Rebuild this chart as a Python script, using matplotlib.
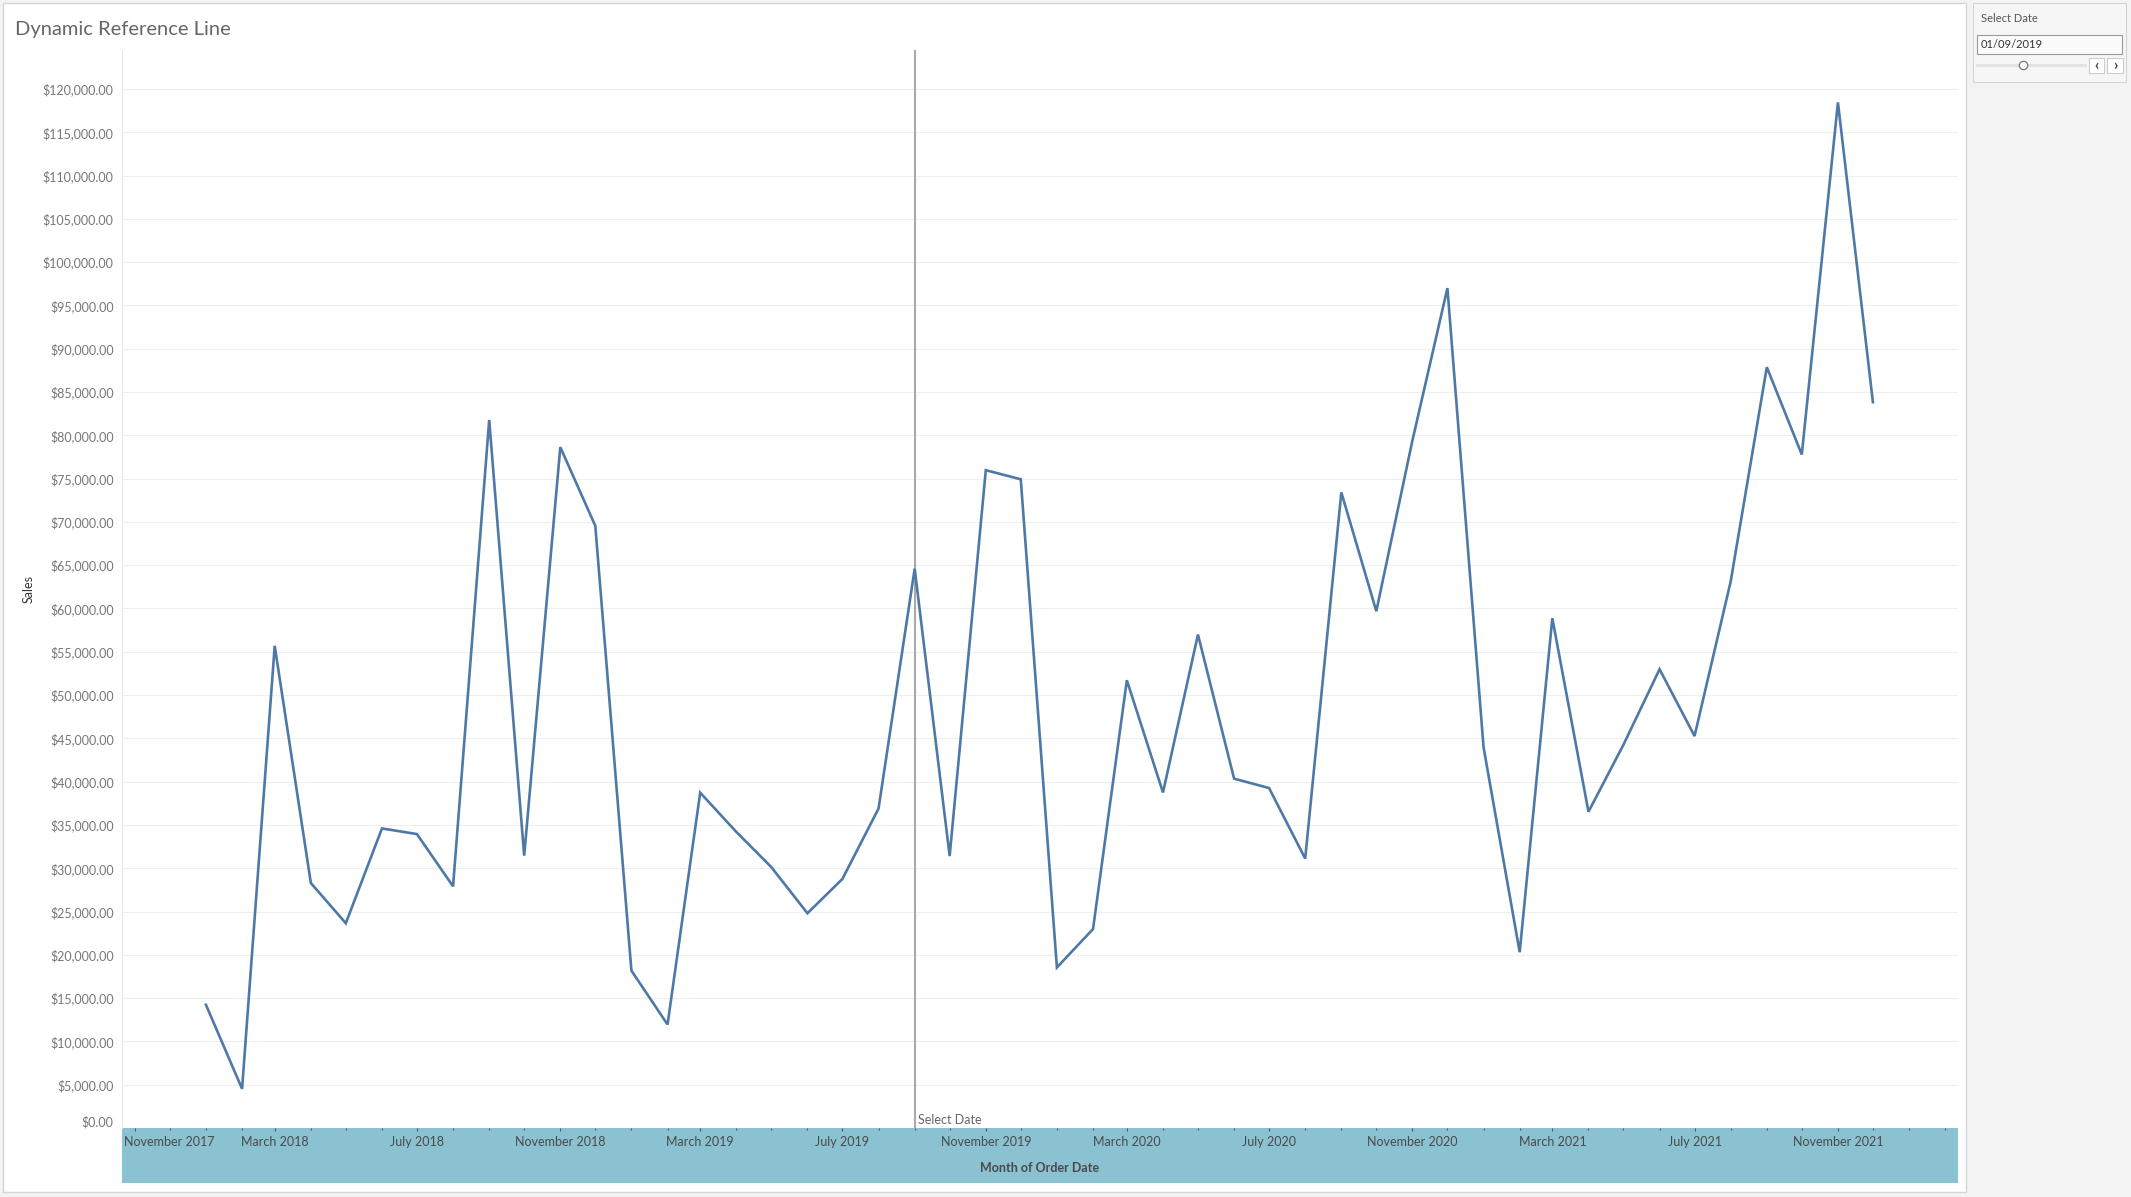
"""
Dynamic Reference Line - monthly sales with a selected date marker
"""

import datetime as dt

import matplotlib
matplotlib.use("Agg")
import matplotlib.pyplot as plt
import matplotlib.dates as mdates
import matplotlib.transforms as mtransforms
from matplotlib.patches import Rectangle
from matplotlib.lines import Line2D
from matplotlib.ticker import FixedLocator, FuncFormatter


# monthly sales, Jan 2018 .. Dec 2021
years = [2018, 2019, 2020, 2021]
sales_2018 = [14237, 4520, 55691, 28295, 23648, 34595, 33946, 27909, 81777, 31453, 78629, 69546]
sales_2019 = [18174, 11951, 38726, 34195, 30132, 24797, 28765, 36898, 64596, 31405, 75973, 74919]
sales_2020 = [18542, 22979, 51716, 38750, 56988, 40345, 39262, 31115, 73410, 59688, 79412, 96999]
sales_2021 = [43971, 20301, 58872, 36522, 44261, 52982, 45264, 63121, 87867, 77777, 118448, 83829]

y_ticks = list(range(0, 120001, 5000))
selected_date = dt.date(2019, 9, 1)
selected_label = "01/09/2019"
x_range = (dt.date(2017, 10, 21), dt.date(2022, 2, 12))
y_max = 124500

W, H = 2131, 1197
LINE_COLOR = "#4e79a7"
BAND_COLOR = "#8bc2d2"


def fx(x):
    return x / W


def fy(y):
    return 1 - y / H


def px_rect(x0, y0, x1, y1, **kw):
    """Rectangle given in pixel coords (top-left origin)"""
    return Rectangle((fx(x0), fy(y1)), (x1 - x0) / W, (y1 - y0) / H,
                     transform=fig.transFigure, **kw)


plt.rcParams["font.family"] = ["Lato", "DejaVu Sans"]

fig = plt.figure(figsize=(W / 100, H / 100), dpi=100, facecolor="#f3f3f3")

# dashboard background and parameter panel
fig.add_artist(px_rect(3, 3, 1966, 1192, facecolor="white", edgecolor="#d6d6d6",
                       linewidth=1, zorder=-10))
fig.add_artist(px_rect(1973, 3, 2126, 82, facecolor="#f6f6f6", edgecolor="#d3d3d3",
                       linewidth=0.8, zorder=-10))

ax = fig.add_axes([fx(122), fy(1128), (1958 - 122) / W, (1128 - 50) / H])

dates = []
values = []
for year, vals in zip(years, [sales_2018, sales_2019, sales_2020, sales_2021]):
    for m, v in enumerate(vals):
        dates.append(dt.date(year, m + 1, 1))
        values.append(v)

ax.plot(dates, values, color=LINE_COLOR, linewidth=1.9, solid_joinstyle="miter", zorder=3)

# reference line
ax.axvline(selected_date, color="#a9a9a9", linewidth=1.5, zorder=2)
ax.annotate("Select Date", xy=(selected_date, 0), xytext=(2.5, 1.5),
            textcoords="offset points", ha="left", va="bottom",
            fontsize=9, color="#666666")

# y axis
ax.yaxis.set_major_locator(FixedLocator(y_ticks))
ax.yaxis.set_major_formatter(FuncFormatter(lambda v, p: f"${v:,.2f}"))
ax.tick_params(axis="y", length=0, pad=6, labelsize=9, labelcolor="#777777")
ax.grid(axis="y", color="#efefef", linewidth=0.8)
ax.set_axisbelow(True)

# x axis
ax.xaxis.set_major_locator(mdates.MonthLocator(bymonth=[3, 7, 11]))
ax.xaxis.set_minor_locator(mdates.MonthLocator())
ax.xaxis.set_major_formatter(mdates.DateFormatter("%B %Y"))
ax.tick_params(axis="x", which="major", length=2.5, width=0.8, color="#555555",
               pad=3, labelsize=9, labelcolor="#4a4a4a")
ax.tick_params(axis="x", which="minor", length=1.5, width=0.8, color="#555555")

ax.set_xlim(*x_range)
ax.set_ylim(0, y_max)

for lbl in ax.get_yticklabels():
    if lbl.get_text() == "$0.00":
        lbl.set_va("bottom")
first = ax.get_xticklabels()[0]
first.set_ha("left")
first.set_transform(first.get_transform() +
                    mtransforms.ScaledTranslation(-0.11, 0, fig.dpi_scale_trans))

for side in ["top", "right", "bottom"]:
    ax.spines[side].set_visible(False)
ax.spines["left"].set_color("#e8e8e8")
ax.spines["left"].set_linewidth(0.8)

# axis band
fig.add_artist(px_rect(122, 1128, 1958, 1183, facecolor=BAND_COLOR, edgecolor="none",
                       zorder=-5))
fig.text(fx(1040), fy(1168), "Month of Order Date", ha="center", va="center",
         fontsize=9, fontweight="bold", color="#4a4a4a")
fig.text(fx(29), fy(589), "Sales", rotation=90, ha="center", va="center",
         fontsize=9, color="#333333")

# title
fig.text(fx(15), fy(35), "Dynamic Reference Line", ha="left", va="baseline",
         fontsize=14.5, color="#666666")

# parameter control
fig.text(fx(1981), fy(18), "Select Date", ha="left", va="center", fontsize=8,
         color="#555555")
fig.add_artist(px_rect(1977, 35, 2122, 54, facecolor="#fbfbfb", edgecolor="#999999",
                       linewidth=0.8))
fig.text(fx(1981), fy(44.5), selected_label, ha="left", va="center", fontsize=8,
         color="#333333")
fig.add_artist(Line2D([fx(1977), fx(2085)], [fy(65), fy(65)], color="#e3e3e3",
                      linewidth=2.2, transform=fig.transFigure))
fig.add_artist(Line2D([fx(2023)], [fy(65)], marker="o", markersize=6,
                      markerfacecolor="white", markeredgecolor="#777777",
                      markeredgewidth=0.9, transform=fig.transFigure))
for x0, x1, ch in [(2089, 2104, "‹"), (2107, 2123, "›")]:
    fig.add_artist(px_rect(x0, 58, x1, 73, facecolor="white", edgecolor="#cccccc",
                           linewidth=0.8))
    fig.text(fx((x0 + x1) / 2), fy(65.5), ch, ha="center", va="center",
             fontsize=11, fontweight="bold", color="#444444")

fig.savefig("out.png", dpi=100, facecolor=fig.get_facecolor())
